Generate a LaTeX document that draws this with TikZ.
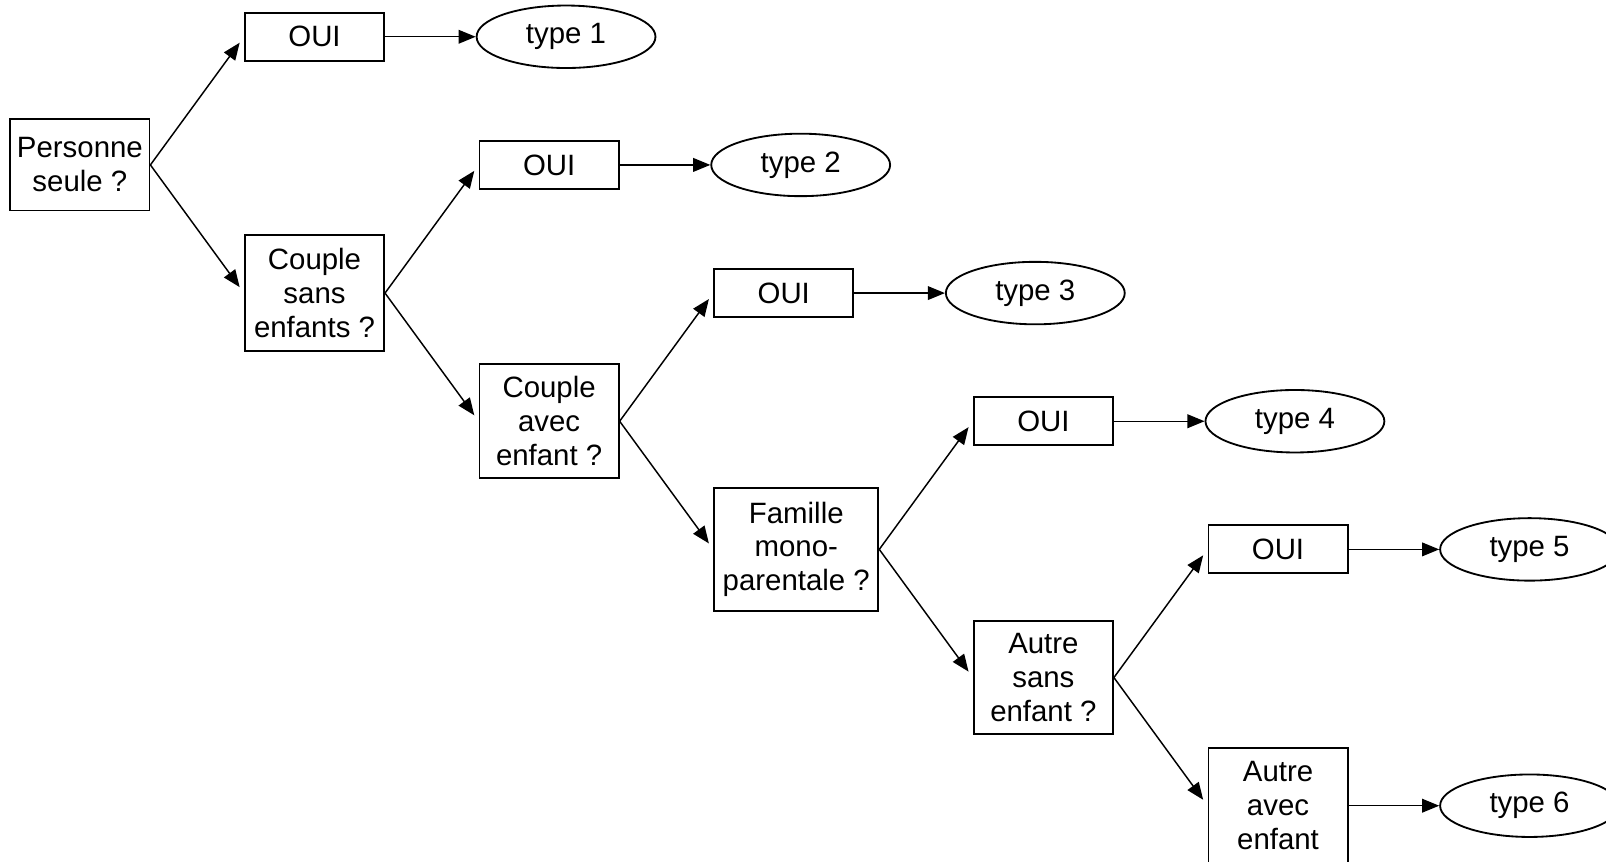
\documentclass[tikz,border=0pt]{standalone}
\usepackage{fontspec}
\setmainfont{Liberation Sans}
\usetikzlibrary{arrows.meta,shapes.geometric,positioning}
\tikzset{
  qbox/.style    ={draw, line width=0.75pt, align=center,
                   minimum width=#1, minimum height=37.2pt,
                   inner sep=2pt, font=\fontsize{12}{13.8}\selectfont},
  qbox/.default=56.8pt,
  ouibox/.style  ={qbox, minimum height=19.6pt},
  typenode/.style={draw, ellipse, line width=0.75pt,
                   minimum width=73pt, minimum height=25.5pt,
                   inner sep=0pt, font=\fontsize{12}{13.8}\selectfont},
  arr/.style     ={-{Triangle[length=7pt,width=5.6pt]}, line width=0.6pt},
  darr/.style    ={arr, shorten >=3pt},
}

\begin{document}
\begin{tikzpicture}
  \clip (-32.6pt,67.3pt) rectangle (622.8pt,-284.2pt);
  %% questions
  \node[qbox] (ps) {Personne\\seule ?};
  \node[qbox, below right=52.3pt and 38.2pt of ps.east, anchor=west,
        minimum height=47.6pt] (cs) {Couple\\sans\\enfants ?};
  \node[qbox, below right=52.3pt and 38.2pt of cs.east, anchor=west,
        minimum height=46.4pt] (ca) {Couple\\avec\\enfant ?};
  \node[qbox=67pt, below right=52.3pt and 38.2pt of ca.east, anchor=west,
        minimum height=50.2pt] (fm) {Famille\\mono-\\parentale ?};
  \node[qbox, below right=52.3pt and 38.2pt of fm.east, anchor=west,
        minimum height=46.4pt] (as) {Autre\\sans\\enfant ?};
  \node[qbox, below right=52.3pt and 38.2pt of as.east, anchor=west,
        minimum height=46.8pt] (aa) {Autre\\avec\\enfant};
  %% OUI answers
  \node[ouibox, above right=52.3pt and 38.2pt of ps.east, anchor=west] (oui1) {OUI};
  \node[ouibox, above right=52.3pt and 38.2pt of cs.east, anchor=west] (oui2) {OUI};
  \node[ouibox, above right=52.3pt and 38.2pt of ca.east, anchor=west] (oui3) {OUI};
  \node[ouibox, above right=52.3pt and 38.2pt of fm.east, anchor=west] (oui4) {OUI};
  \node[ouibox, above right=52.3pt and 38.2pt of as.east, anchor=west] (oui5) {OUI};
  %% types
  \foreach \i in {1,...,5}
    \node[typenode, right=37pt of oui\i] (type\i) {type \i};
  \node[typenode, right=37pt of aa] (type6) {type 6};
  %% arrows
  \foreach \a/\b in {ps/oui1, ps/cs, cs/oui2, cs/ca, ca/oui3, ca/fm,
                     fm/oui4, fm/as, as/oui5, as/aa}
    \draw[darr] (\a.east) -- (\b.west);
  \foreach \i in {1,...,5}
    \draw[arr] (oui\i) -- (type\i);
  \draw[arr] (aa) -- (type6);
\end{tikzpicture}
\end{document}
